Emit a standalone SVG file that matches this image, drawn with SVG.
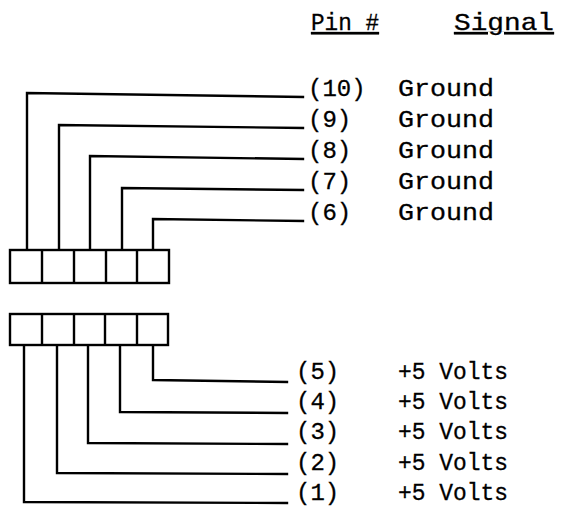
<svg xmlns="http://www.w3.org/2000/svg" width="561" height="508" viewBox="0 0 561 508">
<style>
  .w { fill: none; stroke: #000; stroke-width: 2.4; stroke-linecap: square; stroke-linejoin: miter; }
  .box { fill: #fff; stroke: #000; stroke-width: 2.4; }
  .div { stroke: #000; stroke-width: 2.4; }
  text { font-family: "Liberation Mono", "Courier New", monospace; font-size: 24px; fill: #000; stroke: #000; stroke-width: 0.3; }
  .hd { text-decoration: underline; }
</style>
<rect width="561" height="508" fill="#fff"/>
<g id="headers">
  <text class="hd" x="311" y="30" textLength="68" lengthAdjust="spacingAndGlyphs">Pin #</text>
  <text class="hd" x="454" y="30" textLength="100" lengthAdjust="spacingAndGlyphs">Signal</text>
</g>
<g id="connectors">
  <polyline class="w" points="27,250 27,93 303,97"/>
  <polyline class="w" points="59,250 59,125 303,128"/>
  <polyline class="w" points="90,250 90,156 303,159"/>
  <polyline class="w" points="122,250 122,188 303,190"/>
  <polyline class="w" points="153,250 153,219 303,221"/>
  <polyline class="w" points="153,345 153,380 287,382"/>
  <polyline class="w" points="120,345 120,412 287,413"/>
  <polyline class="w" points="88,345 88,443 287,444"/>
  <polyline class="w" points="57,345 57,473 287,474"/>
  <polyline class="w" points="24,345 24,502 287,503"/>
</g>
<g id="connector-top">
  <rect class="box" x="10" y="250" width="159" height="33"/>
  <line class="div" x1="42" y1="250" x2="42" y2="283"/>
  <line class="div" x1="74" y1="250" x2="74" y2="283"/>
  <line class="div" x1="106" y1="250" x2="106" y2="283"/>
  <line class="div" x1="137" y1="250" x2="137" y2="283"/>
</g>
<g id="connector-bottom">
  <rect class="box" x="10" y="314" width="158" height="31"/>
  <line class="div" x1="42" y1="314" x2="42" y2="345"/>
  <line class="div" x1="74" y1="314" x2="74" y2="345"/>
  <line class="div" x1="105" y1="314" x2="105" y2="345"/>
  <line class="div" x1="137" y1="314" x2="137" y2="345"/>
</g>
<g id="pins-ground">
  <text x="308" y="96">(10)</text><text x="398" y="96" textLength="96" lengthAdjust="spacingAndGlyphs">Ground</text>
  <text x="308" y="127">(9)</text><text x="398" y="127" textLength="96" lengthAdjust="spacingAndGlyphs">Ground</text>
  <text x="308" y="158">(8)</text><text x="398" y="158" textLength="96" lengthAdjust="spacingAndGlyphs">Ground</text>
  <text x="308" y="189">(7)</text><text x="398" y="189" textLength="96" lengthAdjust="spacingAndGlyphs">Ground</text>
  <text x="308" y="220">(6)</text><text x="398" y="220" textLength="96" lengthAdjust="spacingAndGlyphs">Ground</text>
</g>
<g id="pins-power">
  <text x="296" y="379">(5)</text><text x="398" y="379" textLength="110" lengthAdjust="spacingAndGlyphs">+5 Volts</text>
  <text x="296" y="409">(4)</text><text x="398" y="409" textLength="110" lengthAdjust="spacingAndGlyphs">+5 Volts</text>
  <text x="296" y="439">(3)</text><text x="398" y="439" textLength="110" lengthAdjust="spacingAndGlyphs">+5 Volts</text>
  <text x="296" y="470">(2)</text><text x="398" y="470" textLength="110" lengthAdjust="spacingAndGlyphs">+5 Volts</text>
  <text x="296" y="500">(1)</text><text x="398" y="500" textLength="110" lengthAdjust="spacingAndGlyphs">+5 Volts</text>
</g>
</svg>
